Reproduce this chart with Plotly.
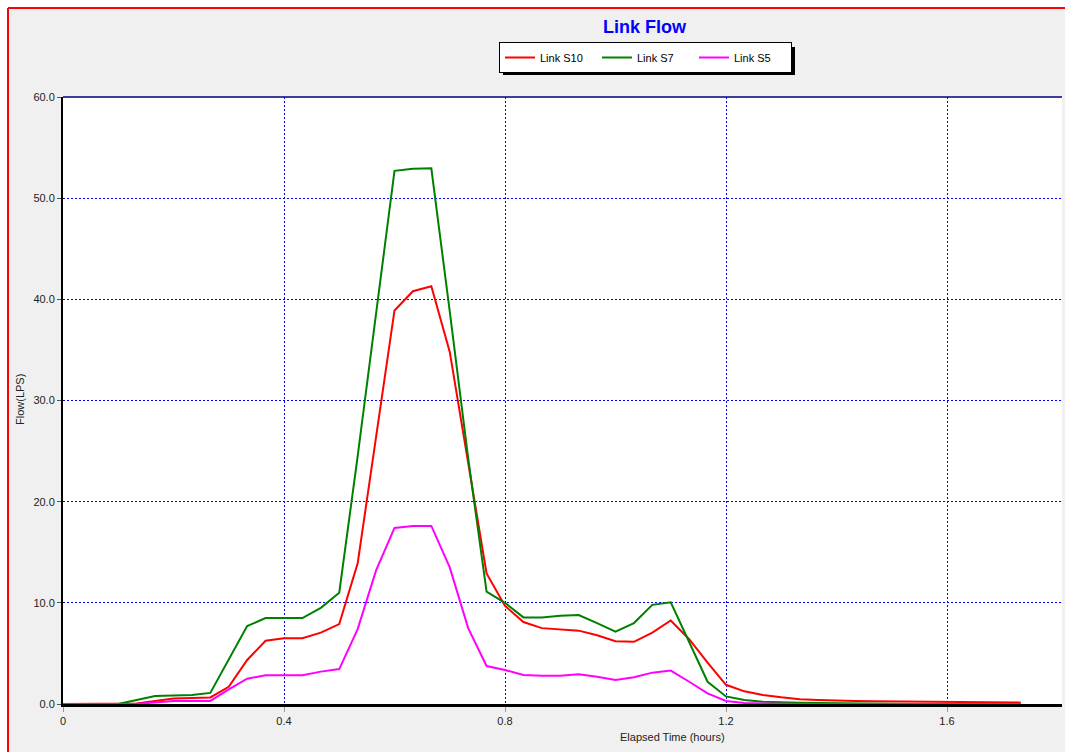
import plotly.graph_objects as go

# Elapsed time in minutes (2-minute reporting steps)
time_min = [0, 2, 4, 6, 8, 10, 12, 14, 16, 18, 20, 22, 24, 26, 28, 30, 32, 34, 36, 38,
            40, 42, 44, 46, 48, 50, 52, 54, 56, 58, 60, 62, 64, 66, 68, 70, 72, 74, 76, 78,
            80, 82, 84, 86, 88, 90, 92, 94, 96, 98, 100, 102, 104]

link_s10 = [0, 0, 0, 0, 0.05, 0.3, 0.55, 0.6, 0.65, 1.7, 4.35, 6.25, 6.5, 6.5, 7.05, 7.9,
            13.9, 26.4, 38.9, 40.8, 41.3, 34.8, 23.9, 12.9, 9.7, 8.1, 7.5, 7.4, 7.25, 6.8,
            6.2, 6.15, 7.05, 8.25, 6.4, 4.1, 1.9, 1.25, 0.9, 0.66, 0.48, 0.4, 0.32, 0.3,
            0.26, 0.24, 0.22, 0.2, 0.18, 0.17, 0.16, 0.15, 0.15]

link_s7 = [0, 0, 0, 0, 0.4, 0.8, 0.85, 0.9, 1.1, 4.4, 7.7, 8.5, 8.5, 8.5, 9.5, 11.0,
           24.5, 38.6, 52.7, 52.9, 52.95, 38.8, 24.3, 11.1, 10.0, 8.56, 8.56, 8.73, 8.8, 8.0,
           7.15, 8.0, 9.8, 10.05, 6.2, 2.2, 0.75, 0.4, 0.23, 0.15, 0.12, 0.1, 0.08, 0,
           0, 0, 0, 0, 0, 0, 0, 0, 0]

link_s5 = [0, 0, 0, 0, 0.02, 0.15, 0.3, 0.3, 0.3, 1.45, 2.5, 2.85, 2.85, 2.85, 3.2, 3.45,
           7.4, 13.2, 17.4, 17.6, 17.6, 13.5, 7.5, 3.75, 3.36, 2.87, 2.8, 2.8, 2.93, 2.7,
           2.37, 2.64, 3.1, 3.3, 2.2, 1.05, 0.3, 0.1, 0.05, 0, 0, 0, 0, 0,
           0, 0, 0, 0, 0, 0, 0, 0, 0]

series_names = ["Link S10", "Link S7", "Link S5"]
series_colors = ["#FF0000", "#008000", "#FF00FF"]
x_tick_vals = [0, 0.4, 0.8, 1.2, 1.6]
x_tick_text = ["0", "0.4", "0.8", "1.2", "1.6"]
y_tick_vals = [0, 10, 20, 30, 40, 50, 60]
y_tick_text = ["0.0", "10.0", "20.0", "30.0", "40.0", "50.0", "60.0"]

hours = [m / 60 for m in time_min]

W, H = 1065, 752
L, R, T, B = 63, 3, 97, 48
pw, ph = W - L - R, H - T - B


def px_x(p):
    return (p - L) / pw


def px_y(p):
    return (H - B - p) / ph


fig = go.Figure()
for name, ys, col in zip(series_names, [link_s10, link_s7, link_s5], series_colors):
    fig.add_trace(go.Scatter(x=hours, y=ys, mode="lines", name=name,
                             line=dict(color=col, width=2)))

font_family = "Liberation Sans, Arial, sans-serif"

fig.update_layout(
    width=W, height=H,
    margin=dict(l=L, r=R, t=T, b=B),
    paper_bgcolor="#F0F0F0",
    plot_bgcolor="#FFFFFF",
    font=dict(family=font_family, size=11, color="#222222"),
    showlegend=True,
    legend=dict(orientation="h", x=px_x(499), y=px_y(42), xanchor="left", yanchor="top",
                bgcolor="#FFFFFF", bordercolor="#000000", borderwidth=1,
                font=dict(family=font_family, size=11, color="#000000"),
                itemwidth=30, tracegroupgap=0, entrywidth=52, entrywidthmode="pixels"),
    xaxis=dict(range=[0, pw / 552.5], tickvals=x_tick_vals, ticktext=x_tick_text,
               showgrid=True, gridcolor="#0000FF", gridwidth=1, griddash="2px,2px",
               showline=True, linecolor="#000000", linewidth=3,
               ticks="outside", ticklen=5, tickcolor="#999999", zeroline=False,
               tickfont=dict(size=11, color="#222222")),
    yaxis=dict(range=[0, 60], tickvals=y_tick_vals, ticktext=y_tick_text,
               showgrid=True, gridcolor="#0000FF", gridwidth=1, griddash="2px,2px",
               showline=True, linecolor="#000000", linewidth=2,
               ticks="outside", ticklen=4, tickcolor="#555555", zeroline=False,
               tickfont=dict(size=11, color="#222222")),
    annotations=[
        dict(text="<b>Link Flow</b>", x=px_x(645), y=px_y(27), xref="paper", yref="paper",
             xanchor="center", yanchor="middle",
             showarrow=False, font=dict(family=font_family, size=18, color="#0000FF")),
        dict(text="Elapsed Time (hours)", x=px_x(672), y=px_y(737), xref="paper", yref="paper",
             xanchor="center", yanchor="middle",
             showarrow=False, font=dict(family=font_family, size=11, color="#222222")),
        dict(text="Flow(LPS)", x=px_x(20), y=px_y(400), xref="paper", yref="paper",
             xanchor="center", yanchor="middle",
             showarrow=False, textangle=-90, font=dict(family=font_family, size=11, color="#222222")),
    ],
    shapes=[
        # white strip outside the red frame
        dict(type="rect", xref="paper", yref="paper", x0=px_x(0), x1=px_x(W), y0=px_y(0), y1=px_y(8),
             fillcolor="#FFFFFF", line=dict(width=0), layer="below"),
        dict(type="rect", xref="paper", yref="paper", x0=px_x(0), x1=px_x(8), y0=px_y(0), y1=px_y(H),
             fillcolor="#FFFFFF", line=dict(width=0), layer="below"),
        # red frame
        dict(type="line", xref="paper", yref="paper", x0=px_x(8), x1=px_x(W + 5), y0=px_y(8), y1=px_y(8),
             line=dict(color="#FF0000", width=2)),
        dict(type="line", xref="paper", yref="paper", x0=px_x(8), x1=px_x(8), y0=px_y(8), y1=px_y(H + 5),
             line=dict(color="#FF0000", width=2)),
        # top border of plot
        dict(type="line", xref="paper", yref="paper", x0=0, x1=1, y0=1, y1=1,
             line=dict(color="#000080", width=1.5)),
        # legend shadow
        dict(type="rect", xref="paper", yref="paper", x0=px_x(503), x1=px_x(795), y0=px_y(47), y1=px_y(75),
             fillcolor="#000000", line=dict(width=0)),
    ],
)

fig.write_html("out.html")
